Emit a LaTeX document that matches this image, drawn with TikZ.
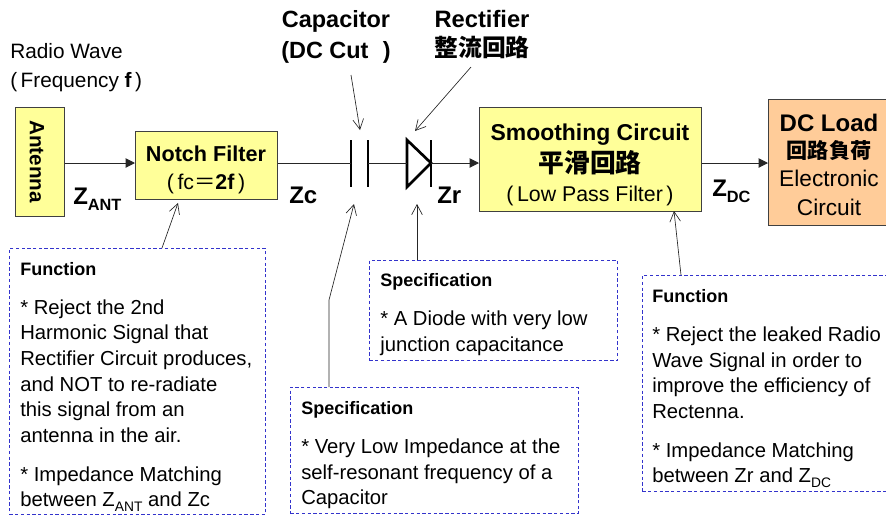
\documentclass[tikz,border=0pt]{standalone}
\usepackage{fontspec}
\setmainfont{Liberation Sans}
\newfontfamily\cjk{Noto Sans CJK JP}
\usetikzlibrary{arrows.meta}
\definecolor{boxyellow}{HTML}{FFFF99}
\definecolor{boxorange}{HTML}{FFCC99}
\definecolor{dashblue}{HTML}{3333CC}
\newcommand{\fs}[1]{\fontsize{#1}{#1}\selectfont}
\newcommand{\sbs}[1]{\raisebox{-0.25em}{\fontsize{0.68em}{1em}\selectfont #1}}
\tikzset{
  x=0.75pt,y=-0.75pt,
  block/.style={draw=black!75,line width=0.75pt,fill=boxyellow,inner sep=0pt,anchor=north west},
  wire/.style={line width=0.75pt,black!85},
  feed/.style={wire,-{Triangle[length=7pt,width=7pt]}},
  callout/.style={line width=0.5pt,black!85,-{Straight Barb[length=7.5pt,width=8pt,line width=0.5pt]}},
  plate/.style={line width=2pt,black},
  notebox/.style={draw=dashblue,dashed,line width=0.6pt,dash pattern=on 2.5pt off 1.8pt,inner sep=0pt,anchor=north west},
  txt/.style={inner sep=0pt,anchor=base west,align=left},
  ctr/.style={inner sep=0pt,anchor=base,align=center},
  body/.style={txt,font=\fs{15.2}},
  head/.style={txt,font=\bfseries\fs{13.5}},
}
\begin{document}
\begin{tikzpicture}
\useasboundingbox (0,0) rectangle (886,515);
% blocks
\node[block,minimum width=49*0.75pt,minimum height=109*0.75pt] (ant) at (15,107) {};
\node[block,minimum width=142*0.75pt,minimum height=68*0.75pt] (notch) at (135,131) {};
\node[block,minimum width=222*0.75pt,minimum height=104*0.75pt] (smooth) at (479,107) {};
\node[block,fill=boxorange,minimum width=125*0.75pt,minimum height=126*0.75pt] (load) at (768,99) {};
% block texts
\node[inner sep=0pt,rotate=-90,font=\bfseries\fs{15.5}] (anttxt) at (37,161.5) {Antenna};
\node[ctr,font=\bfseries\fs{16.2}] (n1) at (206,161) {Notch Filter};
\node[ctr,font=\fs{16}] (n2) at (206,189) {(\,fc{\cjk＝}\textbf{2f}\,)};
\node[ctr,font=\bfseries\fs{17.2}] (s1) at (590,140) {Smoothing Circuit};
\node[ctr,font=\cjk\bfseries\fs{19.3}] (s2) at (590,172) {平滑回路};
\node[ctr,font=\fs{16}] (s3) at (590,201) {(\,Low Pass Filter\,)};
\node[ctr,font=\bfseries\fs{18}] (d1) at (829,131) {DC Load};
\node[ctr,font=\cjk\bfseries\fs{15.8}] (d2) at (829,158) {回路負荷};
\node[ctr,font=\fs{17}] (d3) at (829,186) {Electronic};
\node[ctr,font=\fs{17}] (d4) at (829,215) {Circuit};
% top labels
\node[txt,font=\fs{15.6}] (rw1) at (10,58) {Radio Wave};
\node[txt,font=\fs{15.6}] (rw2) at (10,87) {(\,Frequency \textbf{f}\,)};
\node[ctr,font=\bfseries\fs{17.6}] (c1) at (336,27) {Capacitor};
\node[ctr,font=\bfseries\fs{17.6}] (c2) at (336,58) {(DC Cut\,\, )};
\node[ctr,font=\bfseries\fs{17.8}] (r1) at (482,27) {Rectifier};
\node[ctr,font=\cjk\bfseries\fs{17.8}] (r2) at (482,56) {整流回路};
% impedance labels
\node[txt,font=\bfseries\fs{18}] (za) at (73,204) {Z\sbs{ANT}};
\node[txt,font=\bfseries\fs{18}] (zc) at (289,203) {Zc};
\node[txt,font=\bfseries\fs{18}] (zr) at (437,203) {Zr};
\node[txt,font=\bfseries\fs{18}] (zd) at (712,196) {Z\sbs{DC}};
% capacitor and diode
\coordinate (capL) at (351,163);
\coordinate (capR) at (368,163);
\coordinate (diA) at (407,163);
\coordinate (diK) at (431,163);
\draw[plate] (351,140) -- (351,187);
\draw[plate] (368,140) -- (368,187);
\draw[plate,line join=miter] (407,187) -- (407,140) -- (431,163) -- cycle;
\draw[plate] (431,140) -- (431,187);
% wires
\draw[feed] (ant.east |- 0,163) -- (notch.west |- 0,163);
\draw[wire] (notch.east |- 0,163) -- (capL);
\draw[wire] (capR) -- (diA);
\draw[feed] (diK) -- (smooth.west |- 0,163);
\draw[feed] (smooth.east |- 0,163) -- (load.west |- 0,163);
% note boxes
\node[notebox,minimum width=256*0.75pt,minimum height=266*0.75pt] (f1) at (9,248) {};
\node[notebox,minimum width=288*0.75pt,minimum height=126*0.75pt] (sp1) at (290,387) {};
\node[notebox,minimum width=248*0.75pt,minimum height=100*0.75pt] (sp2) at (369,260) {};
\node[notebox,minimum width=250*0.75pt,minimum height=216*0.75pt] (f2) at (642,275) {};
% note texts
\node[head] (f1t) at (20,275) {Function};
\node[body] (f1a) at (20,314) {* Reject the 2nd};
\node[body] at (20,339) {Harmonic Signal that};
\node[body] at (20,365) {Rectifier Circuit produces,};
\node[body] at (20,391) {and NOT to re-radiate};
\node[body] at (20,416) {this signal from an};
\node[body] at (20,442) {antenna in the air.};
\node[body] at (20,481) {* Impedance Matching};
\node[body] at (20,506) {between Z\sbs{ANT} and Zc};
\node[head] (sp1t) at (301,414) {Specification};
\node[body] at (301,453) {* Very Low Impedance at the};
\node[body] at (301,479) {self-resonant frequency of a};
\node[body] at (301,504) {Capacitor};
\node[head] (sp2t) at (380,286) {Specification};
\node[body] at (380,325) {* A Diode with very low};
\node[body] at (380,351) {junction capacitance};
\node[head] (f2t) at (652,302) {Function};
\node[body] at (652,341) {* Reject the leaked Radio};
\node[body] at (652,367) {Wave Signal in order to};
\node[body] at (652,392) {improve the efficiency of};
\node[body] at (652,418) {Rectenna.};
\node[body] at (652,457) {* Impedance Matching};
\node[body] at (652,482) {between Zr and Z\sbs{DC}};
% callouts
\coordinate (a1) at (351,75);  \coordinate (a1e) at (360,130);
\coordinate (a2) at (471,67);  \coordinate (a2e) at (415,131);
\coordinate (a3e) at (178,203);
\coordinate (a4m) at (329,300); \coordinate (a4e) at (354,204);
\coordinate (a5e) at (417,204);
\coordinate (a6e) at (674,211);
\draw[callout] (a1) -- (a1e);
\draw[callout] (a2) -- (a2e);
\draw[callout] (162,248 |- f1.north) -- (a3e);
\draw[callout] (329,387 |- sp1.north) -- (a4m) -- (a4e);
\draw[callout] (417,260 |- sp2.north) -- (a5e);
\draw[callout] (681,275 |- f2.north) -- (a6e);
\end{tikzpicture}
\end{document}
